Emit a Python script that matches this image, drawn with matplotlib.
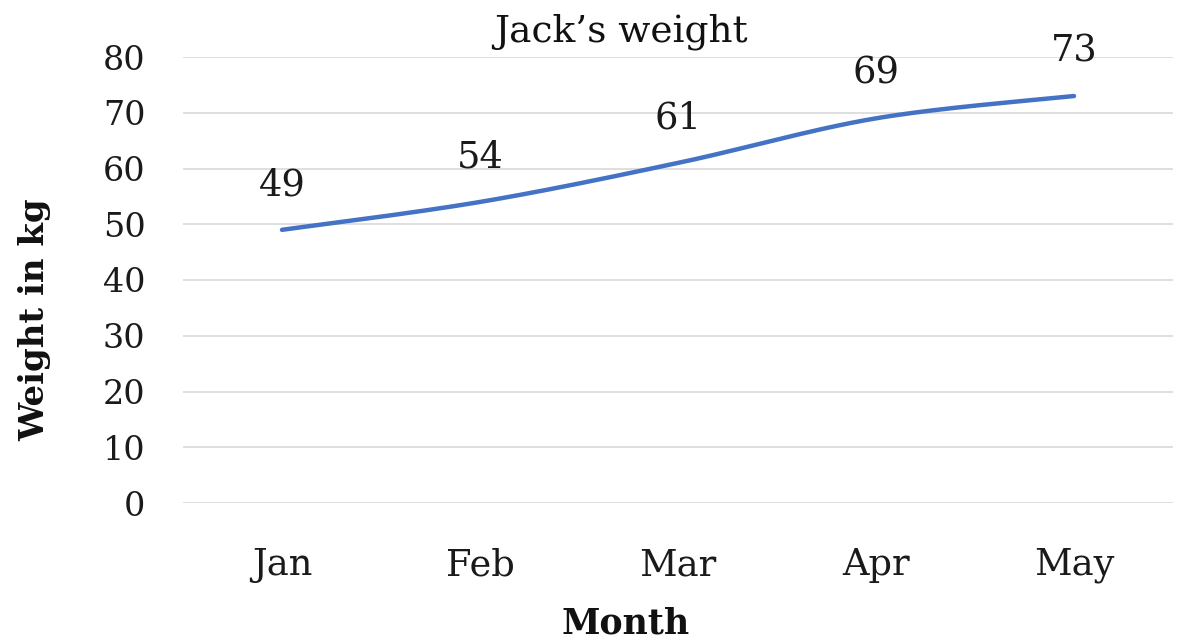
import numpy as np
import matplotlib
matplotlib.use("Agg")
import matplotlib.pyplot as plt

months = ["Jan", "Feb", "Mar", "Apr", "May"]
weights = [49, 54, 61, 69, 73]
y_ticks = [0, 10, 20, 30, 40, 50, 60, 70, 80]

FONT = "DejaVu Serif"
W, H = 1177, 642
fig = plt.figure(figsize=(W / 100, H / 100), dpi=100)
ax = fig.add_axes([183 / W, (H - 503) / H, (1173 - 183) / W, (503 - 57) / H])

x = np.arange(len(months), dtype=float)
y = np.array(weights, dtype=float)


def smooth(xs, ys, n=40):
    # Catmull-Rom style Bezier smoothing through every point
    px = np.concatenate([[xs[0]], xs, [xs[-1]]])
    py = np.concatenate([[ys[0]], ys, [ys[-1]]])
    outx, outy = [], []
    t = np.linspace(0, 1, n)
    for i in range(1, len(px) - 2):
        p0 = np.array([px[i], py[i]])
        p3 = np.array([px[i + 1], py[i + 1]])
        c1 = p0 + (np.array([px[i + 1], py[i + 1]]) - np.array([px[i - 1], py[i - 1]])) / 6
        c2 = p3 - (np.array([px[i + 2], py[i + 2]]) - np.array([px[i], py[i]])) / 6
        b = ((1 - t) ** 3)[:, None] * p0 + (3 * (1 - t) ** 2 * t)[:, None] * c1 \
            + (3 * (1 - t) * t ** 2)[:, None] * c2 + (t ** 3)[:, None] * p3
        outx.extend(b[:, 0])
        outy.extend(b[:, 1])
    return np.array(outx), np.array(outy)


sx, sy = smooth(x, y)
ax.plot(sx, sy, color="#4472C4", lw=3.2, solid_capstyle="round", zorder=3)

for xi, yi in zip(x, weights):
    ax.annotate(str(yi), (xi, yi), xytext=(0, 19), textcoords="offset points",
                ha="center", va="bottom", fontsize=26.5, family=FONT, color="#1a1a1a")

ax.set_xlim(-0.5, len(months) - 0.5)
ax.set_ylim(0, 80)
ax.set_yticks(y_ticks)
ax.set_xticks(x)
ax.set_xticklabels(months)
ax.grid(axis="y", color="#dcdcdc", lw=1.3)
ax.set_axisbelow(True)
for s in ax.spines.values():
    s.set_visible(False)
ax.tick_params(axis="y", length=0, labelsize=24, colors="#1a1a1a", pad=27)
ax.tick_params(axis="x", length=0, labelsize=26.5, colors="#1a1a1a", pad=32)
for lab in ax.get_xticklabels() + ax.get_yticklabels():
    lab.set_family(FONT)

fig.text(621 / W, 1 - 32 / H, "Jack\u2019s weight", ha="center", va="center",
         fontsize=27, family=FONT, color="#111111")
fig.text(35 / W, 1 - 320 / H, "Weight in kg", ha="center", va="center",
         rotation=90, fontsize=24.5, family=FONT, weight="bold", color="#111111")
fig.text(626 / W, 1 - 623 / H, "Month", ha="center", va="center",
         fontsize=25, family=FONT, weight="bold", color="#111111")

fig.savefig("out.png", dpi=100, facecolor="white")
